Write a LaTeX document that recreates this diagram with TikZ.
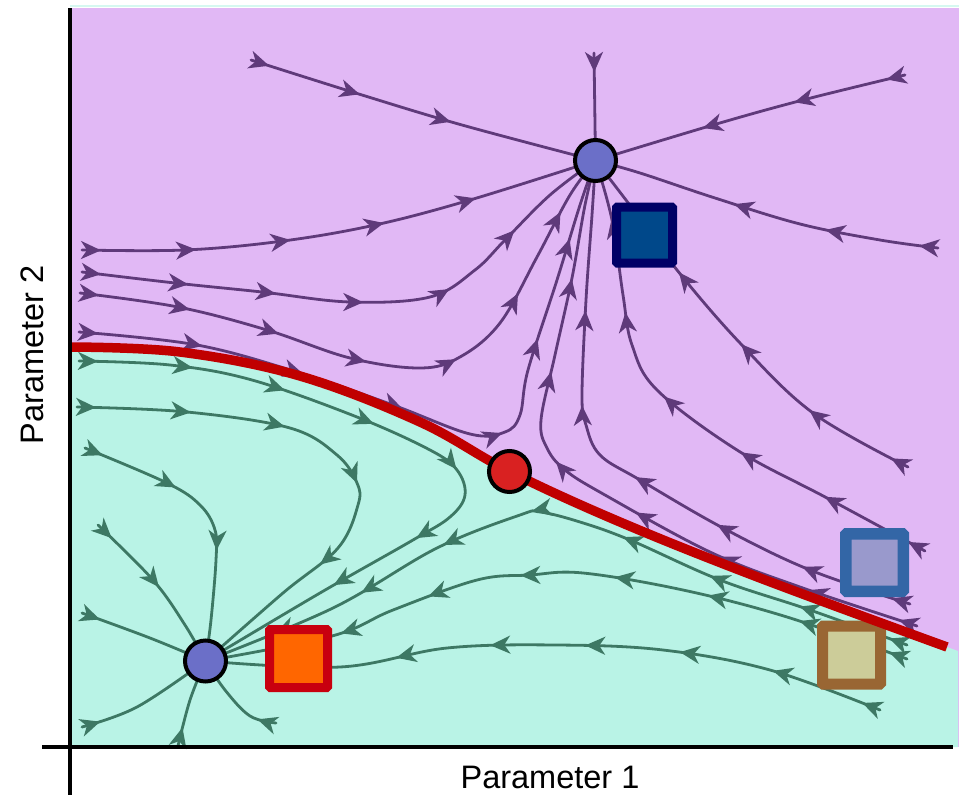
\documentclass[tikz,border=0pt]{standalone}
\usepackage{fontspec}
\setmainfont{Liberation Sans}
\usetikzlibrary{arrows.meta,decorations.markings}

\definecolor{upbg}{HTML}{E1B8F5}
\definecolor{lowbg}{HTML}{B9F3E6}
\definecolor{upline}{HTML}{5F3A7A}
\definecolor{lowline}{HTML}{3D7864}
\definecolor{sepred}{HTML}{C00000}
\definecolor{fixfill}{HTML}{6B6FC8}
\definecolor{saddlefill}{HTML}{D92121}
\definecolor{navyb}{HTML}{000066}
\definecolor{navyf}{HTML}{00488A}
\definecolor{ltblb}{HTML}{3366A6}
\definecolor{ltblf}{HTML}{9999CC}
\definecolor{brownb}{HTML}{996633}
\definecolor{brownf}{HTML}{CCCC99}
\definecolor{orangeb}{HTML}{C8000F}
\definecolor{orangef}{HTML}{FF6600}

\tikzset{
  flowtip/.tip={Stealth[length=20pt 0 0,width=18pt 0 0,inset=6pt 0]},
  flow/.style={line width=2.8pt, line cap=round, postaction={decorate},
    decoration={markings,
      mark=between positions 19pt and -60pt step #1 with {\arrow{flowtip}}}},
  flow/.default=95pt,
  upflow/.style={flow=#1, color=upline},
  upflow/.default=95pt,
  lowflow/.style={flow=#1, color=lowline},
  lowflow/.default=95pt,
  fixpt/.style={circle, draw=black, line width=4pt, fill=#1,
    minimum size=41pt, inner sep=0pt},
  marker/.style 2 args={rectangle, rounded corners=1pt, inner sep=0pt,
    minimum size=#1, line width=#2},
  axislabel/.style={font=\fontsize{32.5}{39}\selectfont, inner sep=0pt},
  axisline/.style={line width=4pt, draw=black},
}

\begin{document}
\begin{tikzpicture}[x=1pt,y=-1pt]
\useasboundingbox (0,0) rectangle (963,795);

% fixed points of the flow
\coordinate (Upos) at (595.5,160.5);
\coordinate (Lpos) at (205.5,661);
\coordinate (Spos) at (509.5,471.5);

% basins of attraction
\fill[upbg] (70,8) rectangle (959,747);
\draw[line width=1.5pt, draw=lowbg!60!white] (70,6) -- (959,6);
\fill[lowbg] plot[smooth, tension=0.6] coordinates {(70,347) (180,352) (300,376) (420,422) (Spos) (620,522) (760,578) (947,647)}
  -- (958,651) -- (958,747) -- (70,747) -- cycle;

% trajectories into the upper attractor
\draw[upflow] plot[smooth, tension=0.6] coordinates {(251,60) (362,95) (462,125) (Upos)};
\draw[upflow] (594,53) -- (Upos);
\draw[upflow] plot[smooth, tension=0.6] coordinates {(905,75) (803,100) (713,125) (Upos)};
\draw[upflow] plot[smooth, tension=0.6] coordinates {(938,248) (880,240) (800,224) (715,198) (640,173) (Upos)};
\draw[upflow] plot[smooth, tension=0.6] coordinates {(82,250) (185,250) (283,241) (375,225) (470,200) (Upos)};
\draw[upflow=88pt] plot[smooth, tension=0.6] coordinates {(82,272) (175,283) (262,292) (350,302) (430,297) (475,270) (505,240) (550,195) (Upos)};
\draw[upflow=92pt] plot[smooth, tension=0.6] coordinates {(80,293) (178,307) (267,330) (350,358) (420,368) (460,357) (500,323) (537,257) (570,195) (Upos)};
\draw[upflow=105pt] plot[smooth, tension=0.6] coordinates {(79,332) (197,345) (300,373) (393,405) (470,434) (505,432) (520,415) (528,370) (557,280) (580,205) (Upos)};
\draw[upflow] plot[smooth, tension=0.6] coordinates {(917,626) (800,587) (710,552) (605,495) (565,470) (547,448) (541,420) (555,355) (572,278) (585,205) (Upos)};
\draw[upflow] plot[smooth, tension=0.6] coordinates {(910,604) (810,570) (723,528) (640,480) (600,455) (586,425) (582,395) (586,300) (592,215) (Upos)};
\draw[upflow] plot[smooth, tension=0.6] coordinates {(925,551) (827,498) (737,450) (657,390) (632,345) (623,295) (612,220) (Upos)};
\draw[upflow] plot[smooth, tension=0.6] coordinates {(908,467) (813,413) (740,343) (677,270) (635,212) (Upos)};

% trajectories into the lower attractor
\draw[lowflow] plot[smooth, tension=0.6] coordinates {(79,361) (170,365) (252,380) (357,417) (430,450) (457,470) (465,495) (450,517) (413,540) (320,593) (Lpos)};
\draw[lowflow] plot[smooth, tension=0.6] coordinates {(77,407) (187,412) (290,428) (337,455) (357,483) (358,505) (338,548) (283,593) (Lpos)};
\draw[lowflow=80pt] plot[smooth, tension=0.6] coordinates {(85,448) (167,483) (200,505) (215,530) (216,560) (211,620) (Lpos)};
\draw[lowflow=68pt] plot[smooth, tension=0.6] coordinates {(98,525) (153,580) (185,625) (Lpos)};
\draw[lowflow] plot[smooth, tension=0.6] coordinates {(82,613) (150,638) (Lpos)};
\draw[lowflow] plot[smooth, tension=0.6] coordinates {(82,727) (137,707) (Lpos)};
\draw[lowflow] plot[smooth, tension=0.6] coordinates {(178,746) (190,700) (Lpos)};
\draw[lowflow] plot[smooth, tension=0.6] coordinates {(276,723) (250,716) (225,690) (Lpos)};
\draw[lowflow] plot[smooth, tension=0.6] coordinates {(907,645) (810,610) (720,580) (630,540) (580,522) (540,512) (520,515) (437,548) (333,608) (Lpos)};
\draw[lowflow] plot[smooth, tension=0.6] coordinates {(907,659) (787,617) (683,590) (583,573) (530,575) (477,580) (393,610) (332,636) (Lpos)};
\draw[lowflow] plot[smooth, tension=0.6] coordinates {(880,710) (770,670) (663,650) (557,645) (447,648) (340,667) (Lpos)};

% sample markers
\node[marker={56pt}{9pt}, draw=navyb, fill=navyf] (navysq) at (644.5,235) {};
\node[marker={57.5pt}{11.5pt}, draw=ltblb, fill=ltblf] (bluesq) at (874.5,562.5) {};
\node[marker={58pt}{11pt}, draw=brownb, fill=brownf] (brownsq) at (851.5,655) {};
\node[marker={58pt}{9pt}, draw=orangeb, fill=orangef] (orangesq) at (298.5,658.5) {};

% separatrix through the saddle
\draw[sepred, line width=9.5pt] plot[smooth, tension=0.6] coordinates {(70,347) (180,352) (300,376) (420,422) (Spos) (620,522) (760,578) (947,647)};

% fixed points
\node[fixpt=fixfill] (U) at (Upos) {};
\node[fixpt=fixfill] (L) at (Lpos) {};
\node[fixpt=saddlefill] (S) at (Spos) {};

% axes
\draw[axisline] (70,8) -- (70,795);
\draw[axisline] (42,747) -- (953,747);
\node[axislabel, anchor=base] (xlab) at (550,788) {Parameter 1};
\node[axislabel, anchor=base, rotate=90] (ylab) at (43,355) {Parameter 2};
\end{tikzpicture}
\end{document}
